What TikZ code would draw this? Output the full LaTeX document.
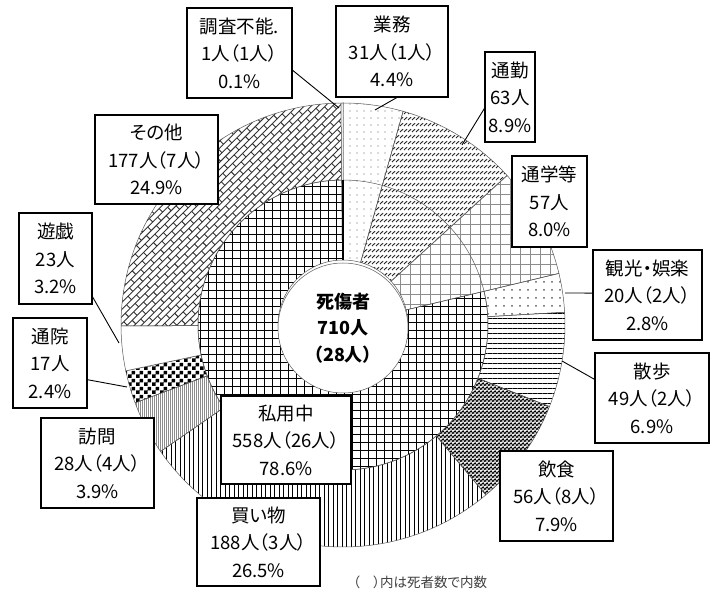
\documentclass[tikz,border=0pt]{standalone}
\usepackage{fontspec}
\setmainfont{Noto Sans CJK JP}[RawFeature=+palt]
\usetikzlibrary{patterns,patterns.meta}

\pgfdeclarepattern{
  name=slashrows,
  bottom left={\pgfpoint{-1pt}{-1pt}},
  top right={\pgfpoint{5pt}{7pt}},
  tile size={\pgfpoint{4pt}{6pt}},
  code={
    \pgfsetlinewidth{0.9pt}
    \pgfpathmoveto{\pgfpoint{0pt}{0pt}}
    \pgfpathlineto{\pgfpoint{3pt}{2.8pt}}
    \pgfusepath{stroke}
  }
}
\pgfdeclarepattern{
  name=rotbricks,
  bottom left={\pgfpoint{-1pt}{-1pt}},
  top right={\pgfpoint{15pt}{11pt}},
  tile size={\pgfpoint{14pt}{10pt}},
  tile transformation={\pgftransformrotate{45}},
  code={
    \pgfsetlinewidth{0.9pt}
    \pgfpathmoveto{\pgfpoint{0pt}{0pt}}\pgfpathlineto{\pgfpoint{14pt}{0pt}}
    \pgfpathmoveto{\pgfpoint{0pt}{5pt}}\pgfpathlineto{\pgfpoint{14pt}{5pt}}
    \pgfpathmoveto{\pgfpoint{0pt}{0pt}}\pgfpathlineto{\pgfpoint{0pt}{5pt}}
    \pgfpathmoveto{\pgfpoint{7pt}{5pt}}\pgfpathlineto{\pgfpoint{7pt}{10pt}}
    \pgfusepath{stroke}
  }
}
\pgfdeclarepattern{
  name=checks,
  bottom left={\pgfpoint{0pt}{0pt}},
  top right={\pgfpoint{8pt}{8pt}},
  tile size={\pgfpoint{8pt}{8pt}},
  code={
    \pgfpathrectangle{\pgfpoint{0pt}{0pt}}{\pgfpoint{4pt}{4pt}}
    \pgfpathrectangle{\pgfpoint{4pt}{4pt}}{\pgfpoint{4pt}{4pt}}
    \pgfusepath{fill}
  }
}
\pgfdeclarepattern{
  name=worms,
  bottom left={\pgfpoint{-1pt}{-1pt}},
  top right={\pgfpoint{5pt}{5pt}},
  tile size={\pgfpoint{4pt}{4pt}},
  code={
    \pgfsetlinewidth{1.1pt}
    \pgfpathmoveto{\pgfpoint{0pt}{0.4pt}}
    \pgfpathlineto{\pgfpoint{1.1pt}{1.6pt}}
    \pgfpathlineto{\pgfpoint{2.2pt}{0.5pt}}
    \pgfpathmoveto{\pgfpoint{2pt}{3.1pt}}
    \pgfpathlineto{\pgfpoint{3pt}{2.1pt}}
    \pgfpathlineto{\pgfpoint{3.9pt}{3.4pt}}
    \pgfusepath{stroke}
  }
}

\newcommand\annseg[5]{%
  \path[seg,#5] (#1:#3pt) arc[start angle=#1,end angle=#2,radius=#3pt]
    -- (#2:#4pt) arc[start angle=#2,end angle=#1,radius=#4pt] -- cycle;}

\begin{document}
\begin{tikzpicture}[x=1pt,y=1pt,
  seg/.style={draw=black!65, line width=0.5pt},
  lbl/.style={draw=black, line width=1.1pt, fill=white, align=center, inner sep=0pt,
    font=\fontsize{18.5}{27.5}\selectfont},
  leader/.style={draw=black, line width=0.9pt}]
\useasboundingbox (0,0) rectangle (710,594);
\fill[white] (0,0) rectangle (710,594);

\begin{scope}[shift={(343,269)}]
  % outer ring (and full-depth wedges)
  \annseg{90}{74.282}{65}{222}{pattern={Dots[distance=7pt,radius=0.6pt]},pattern color=black!60}
  \annseg{74.282}{42.338}{65}{222}{pattern=slashrows,pattern color=black!85}
  \annseg{42.338}{13.437}{65}{222}{pattern={Hatch[angle=0,distance=10pt,line width=0.7pt]},pattern color=black!45}
  \annseg{13.437}{3.296}{145}{222}{pattern={Dots[distance=8pt,radius=1pt]},pattern color=black!65}
  \annseg{3.296}{-21.549}{145}{222}{pattern={Lines[angle=0,distance=5pt,line width=1pt]},pattern color=black}
  \annseg{-21.549}{-49.944}{145}{222}{pattern=worms,pattern color=black}
  \annseg{-49.944}{-145.268}{145}{222}{pattern={Lines[angle=90,distance=4.5pt,line width=0.9pt]},pattern color=black}
  \annseg{-145.268}{-159.465}{145}{222}{pattern={Lines[angle=90,distance=2pt,line width=0.6pt]},pattern color=black!45}
  \annseg{-159.465}{-168.085}{145}{222}{pattern=checks,pattern color=black}
  \annseg{-168.085}{-179.746}{145}{222}{fill=white}
  \annseg{-179.746}{-269.493}{145}{222}{pattern=rotbricks,pattern color=black!80}
  \annseg{-269.493}{-270}{65}{222}{fill=white}
  % inner ring
  \annseg{13.437}{-269.493}{65}{145}{pattern={Hatch[angle=0,distance=8pt,line width=0.9pt]},pattern color=black}
  \draw[seg] (90:145pt) arc[start angle=90,end angle=13.437,radius=145pt];
  \draw[line width=1.6pt] (90:65pt) -- (90:145pt);
  % centre
  \node[circle, draw=black!65, line width=0.5pt, fill=white, minimum size=130pt, inner sep=0pt] (center) at (0,-3) {};
\end{scope}
\node[align=center, font=\fontsize{18}{26.5}\selectfont\bfseries] (ctext) at (343,266) {死傷者\\710人\\（28人）};

% leader end points on the pie
\coordinate (e-chosa) at (339,486);
\coordinate (e-gyomu) at (375,484);
\coordinate (e-tsukin) at (462,449);
\coordinate (e-kanko) at (565,301);
\coordinate (e-sanpo) at (562,233);
\coordinate (e-tsuin) at (127,207);
\coordinate (e-yugi) at (119,251);

% label boxes
\node[lbl, minimum width=105pt, minimum height=90pt] (chosa) at (239.5,541) {調査不能.\\1人（1人）\\0.1\%};
\node[lbl, minimum width=112pt, minimum height=91pt] (gyomu) at (392,542.5) {業務\\31人（1人）\\4.4\%};
\node[lbl, minimum width=50pt, minimum height=90pt] (tsukin) at (510,497) {通勤\\63人\\8.9\%};
\node[lbl, minimum width=75pt, minimum height=91pt] (tsugaku) at (549.5,392.5) {通学等\\57人\\8.0\%};
\node[lbl, minimum width=109pt, minimum height=90pt] (kanko) at (647.5,299) {観光・娯楽\\20人（2人）\\2.8\%};
\node[lbl, minimum width=114pt, minimum height=90pt] (sanpo) at (652,196) {散歩\\49人（2人）\\6.9\%};
\node[lbl, minimum width=113pt, minimum height=90pt] (inshoku) at (556.5,98) {飲食\\56人（8人）\\7.9\%};
\node[lbl, minimum width=123pt, minimum height=88pt] (kaimono) at (258.5,52) {買い物\\188人（3人）\\26.5\%};
\node[lbl, minimum width=130pt, minimum height=88pt] (shiyo) at (286,154) {私用中\\558人（26人）\\78.6\%};
\node[lbl, minimum width=113pt, minimum height=90pt] (homon) at (97.5,131) {訪問\\28人（4人）\\3.9\%};
\node[lbl, minimum width=74pt, minimum height=90pt] (tsuin) at (50,231) {通院\\17人\\2.4\%};
\node[lbl, minimum width=73pt, minimum height=91pt] (yugi) at (55.5,335.5) {遊戯\\23人\\3.2\%};
\node[lbl, minimum width=123pt, minimum height=89pt] (sonota) at (156.5,434.5) {その他\\177人（7人）\\24.9\%};

% leaders
\draw[leader] (chosa.-18) -- (e-chosa);
\draw[leader] (gyomu.-84) -- (e-gyomu);
\draw[leader] (tsukin.204) -- (e-tsukin);
\draw[leader] (kanko.178) -- (e-kanko);
\draw[leader] (sanpo.162) -- (e-sanpo);
\draw[leader] (tsuin.-24) -- (e-tsuin);
\draw[leader] (yugi.-46) -- (e-yugi);

\node[font=\fontsize{13.5}{16}\selectfont, text=black!75] (note) at (420,12) {（\quad）内は死者数で内数};
\end{tikzpicture}
\end{document}
